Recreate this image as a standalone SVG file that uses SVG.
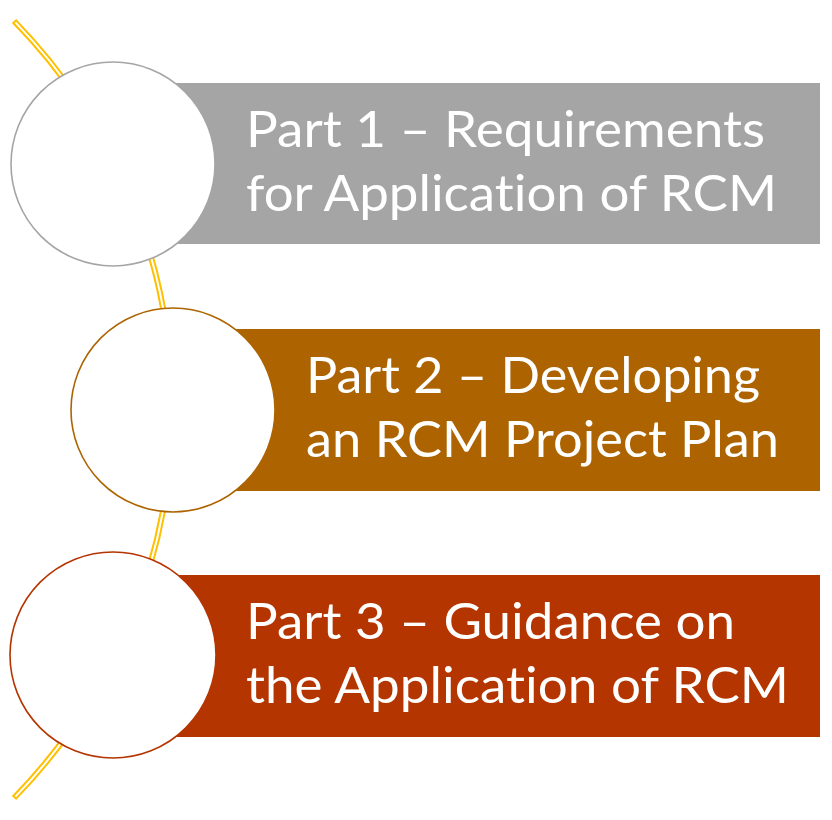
<svg xmlns="http://www.w3.org/2000/svg" width="832" height="820" viewBox="0 0 832 820">
<style>
.t{font-family:"Lato","Open Sans","Liberation Sans",sans-serif;font-size:50px;fill:#FFFFFF;font-variant-ligatures:none;font-feature-settings:"liga" 0}
.c{fill:#FFFFFF;stroke-width:1.6}
</style>
<rect width="832" height="820" fill="#FFFFFF"/>
<g id="connectors">
<path d="M14,21 A556,556 0 0 1 14,798" fill="none" stroke="#FFC000" stroke-width="6"/>
<path d="M15.4,22.4 A556,556 0 0 1 15.4,796.6" fill="none" stroke="#FFFFFF" stroke-width="2"/>
</g>
<g id="part1">
<rect x="113" y="83" width="707" height="161" fill="#A5A5A5"/>
<circle class="c" cx="113" cy="164" r="102" stroke="#A5A5A5"/>
<text class="t" x="246" y="147" textLength="519" lengthAdjust="spacingAndGlyphs">Part 1 – Requirements</text>
<text class="t" x="246" y="211" textLength="531" lengthAdjust="spacingAndGlyphs">for Application of RCM</text>
</g>
<g id="part2">
<rect x="173" y="329" width="647" height="162" fill="#AD6400"/>
<circle class="c" cx="173" cy="410" r="102" stroke="#AD6400"/>
<text class="t" x="306" y="393" textLength="454" lengthAdjust="spacingAndGlyphs">Part 2 – Developing</text>
<text class="t" x="306" y="457" textLength="473" lengthAdjust="spacingAndGlyphs">an RCM Project Plan</text>
</g>
<g id="part3">
<rect x="113" y="575" width="707" height="162" fill="#B43500"/>
<circle class="c" cx="113" cy="655" r="103" stroke="#B43500"/>
<text class="t" x="246" y="639" textLength="489" lengthAdjust="spacingAndGlyphs">Part 3 – Guidance on</text>
<text class="t" x="246" y="703" textLength="543" lengthAdjust="spacingAndGlyphs">the Application of RCM</text>
</g>
</svg>
